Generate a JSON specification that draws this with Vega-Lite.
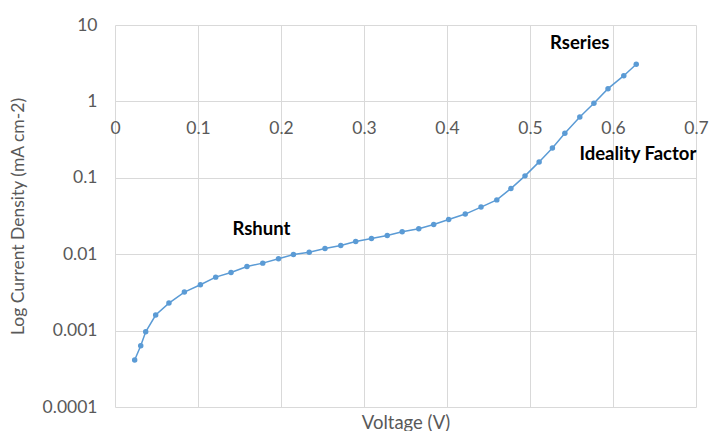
{
  "$schema": "https://vega.github.io/schema/vega-lite/v6.json",
  "width": 581,
  "height": 382,
  "autosize": "none",
  "padding": {"left": 115, "top": 25, "right": 14, "bottom": 24},
  "background": "white",
  "config": {
    "view": {"stroke": null},
    "font": "Lato"
  },
  "datasets": {
    "jv": [
      {"v": 0.0237, "j": 0.000412},
      {"v": 0.031, "j": 0.000634},
      {"v": 0.037, "j": 0.000966},
      {"v": 0.049, "j": 0.0016},
      {"v": 0.065, "j": 0.00229},
      {"v": 0.0836, "j": 0.00319},
      {"v": 0.1029, "j": 0.00398},
      {"v": 0.1213, "j": 0.00501},
      {"v": 0.1398, "j": 0.00576},
      {"v": 0.159, "j": 0.0069},
      {"v": 0.178, "j": 0.00764},
      {"v": 0.197, "j": 0.0087},
      {"v": 0.215, "j": 0.0099},
      {"v": 0.234, "j": 0.01064},
      {"v": 0.253, "j": 0.01187},
      {"v": 0.272, "j": 0.013},
      {"v": 0.29, "j": 0.01466},
      {"v": 0.309, "j": 0.01603},
      {"v": 0.328, "j": 0.01755},
      {"v": 0.346, "j": 0.01963},
      {"v": 0.366, "j": 0.02148},
      {"v": 0.384, "j": 0.02444},
      {"v": 0.402, "j": 0.02844},
      {"v": 0.422, "j": 0.0335},
      {"v": 0.441, "j": 0.0414},
      {"v": 0.46, "j": 0.0514},
      {"v": 0.477, "j": 0.0723},
      {"v": 0.494, "j": 0.106},
      {"v": 0.511, "j": 0.1615},
      {"v": 0.527, "j": 0.246},
      {"v": 0.542, "j": 0.384},
      {"v": 0.56, "j": 0.626},
      {"v": 0.577, "j": 0.946},
      {"v": 0.594, "j": 1.469},
      {"v": 0.613, "j": 2.17},
      {"v": 0.628, "j": 3.06}
    ],
    "notes": [
      {"v": 0.1764, "j": 0.0215, "label": "Rshunt"},
      {"v": 0.56, "j": 5.87, "label": "Rseries"},
      {"v": 0.63, "j": 0.2056, "label": "Ideality Factor"}
    ]
  },
  "layer": [
    {
      "data": {"name": "jv"},
      "mark": {"type": "line", "color": "#5b9bd5", "strokeWidth": 1.5, "point": {"filled": true, "size": 30, "color": "#5b9bd5"}},
      "encoding": {
        "x": {
          "field": "v", "type": "quantitative",
          "scale": {"domain": [0, 0.7], "nice": false},
          "axis": {
            "title": "Voltage (V)",
            "values": [0, 0.1, 0.2, 0.3, 0.4, 0.5, 0.6, 0.7],
            "format": "~g",
            "offset": -305.5,
            "domain": false,
            "ticks": false,
            "grid": true,
            "gridColor": "#d9d9d9",
            "gridWidth": 1,
            "labelFont": "Lato",
            "labelFontSize": 17.5,
            "labelColor": "#595959",
            "labelPadding": 18,
            "labelOverlap": false,
            "labelBound": false,
            "labelFlush": false,
            "titleFont": "Lato",
            "titleFontSize": 18.5,
            "titleFontWeight": "normal",
            "titleColor": "#595959",
            "titleY": 320.5,
            "titleBaseline": "middle"
          }
        },
        "y": {
          "field": "j", "type": "quantitative",
          "scale": {"type": "log", "domain": [0.0001, 10], "nice": false},
          "axis": {
            "title": "Log Current Density (mA cm-2)",
            "values": [0.0001, 0.001, 0.01, 0.1, 1, 10],
            "format": "~g",
            "domain": false,
            "ticks": false,
            "grid": true,
            "gridColor": "#d9d9d9",
            "gridWidth": 1,
            "labelFont": "Lato",
            "labelFontSize": 17.5,
            "labelColor": "#595959",
            "labelPadding": 18,
            "labelOverlap": false,
            "labelBound": false,
            "labelFlush": false,
            "titleFont": "Lato",
            "titleFontSize": 17.5,
            "titleFontWeight": "normal",
            "titleColor": "#595959",
            "titleX": -97,
            "titleY": 191,
            "titleAngle": -90,
            "titleBaseline": "middle"
          }
        }
      }
    },
    {
      "data": {"name": "notes"},
      "mark": {"type": "text", "font": "Lato", "fontWeight": "bold", "fontSize": 18.5, "color": "#000000", "align": "center", "baseline": "middle"},
      "encoding": {
        "x": {"field": "v", "type": "quantitative"},
        "y": {"field": "j", "type": "quantitative"},
        "text": {"field": "label"}
      }
    }
  ]
}
